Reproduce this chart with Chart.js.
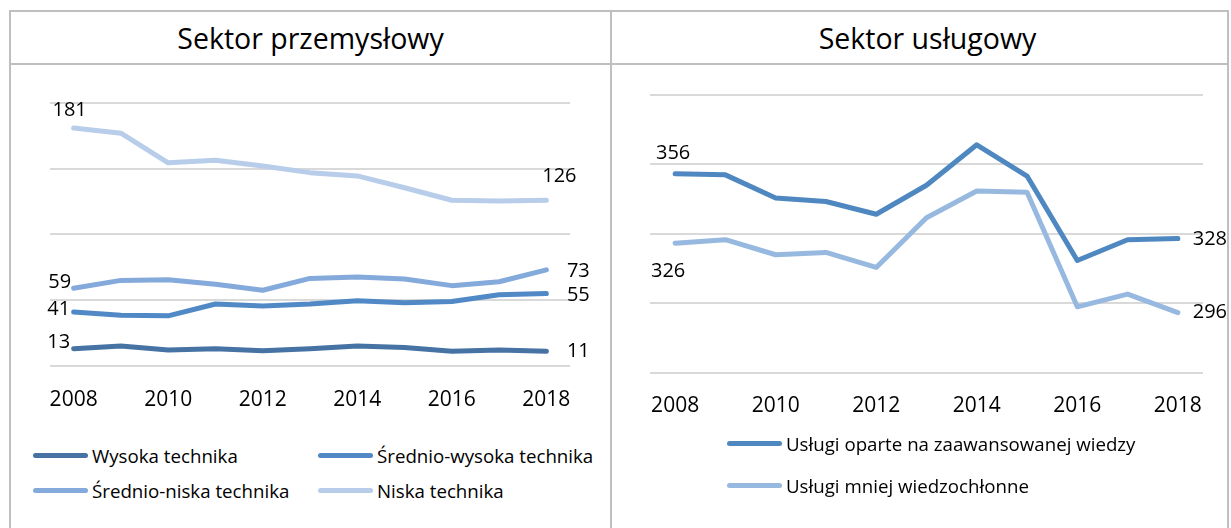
<!DOCTYPE html>
<html lang="pl">
<head>
    <meta charset="UTF-8">
    <title>Sektor przemysłowy i usługowy</title>
    <script src="https://cdn.jsdelivr.net/npm/chart.js"></script>
    <style>
        body {
            margin: 0;
            background: #fff;
            font-family: "Open Sans", sans-serif;
            color: #000;
        }

        .line {
            position: absolute;
            background: #bfbfbf;
        }

        .title {
            position: absolute;
            top: 12px;
            height: 51px;
            display: flex;
            align-items: center;
            justify-content: center;
            font-size: 28.5px;
        }

        .chart-box {
            position: absolute;
            top: 66px;
        }

        .legend {
            position: absolute;
            font-size: 18.7px;
        }

        .legend-item {
            position: absolute;
            display: flex;
            align-items: center;
            white-space: nowrap;
        }

        .legend-item span.sample {
            display: inline-block;
            width: 55px;
            height: 5px;
            border-radius: 3px;
            margin-right: 4px;
        }
    </style>
</head>

<body>
    <!-- ramka -->
    <div class="line" style="left:9px; top:10px; width:1220px; height:2px;"></div>
    <div class="line" style="left:9px; top:63px; width:1220px; height:2px;"></div>
    <div class="line" style="left:9px; top:10px; width:2px; height:530px;"></div>
    <div class="line" style="left:610px; top:10px; width:2px; height:530px;"></div>
    <div class="line" style="left:1227px; top:10px; width:2px; height:530px;"></div>

    <div class="title" style="left:11px; width:599px;">Sektor przemysłowy</div>
    <div class="title" style="left:620px; width:615px;">Sektor usługowy</div>

    <div class="chart-box" style="left:12px;">
        <canvas id="chartPrzemysl" width="596" height="373"></canvas>
    </div>
    <div class="chart-box" style="left:613px;">
        <canvas id="chartUslugi" width="613" height="376"></canvas>
    </div>

    <div class="legend" id="legendPrzemysl"></div>
    <div class="legend" id="legendUslugi"></div>

    <script>
        // Dane
        const years = ['2008', '2009', '2010', '2011', '2012', '2013', '2014', '2015', '2016', '2017', '2018'];
        const tickYears = ['2008', '2010', '2012', '2014', '2016', '2018'];

        const wysokaTechnika = [13, 15, 12, 13, 11.5, 13, 15, 14, 11, 12, 11];
        const sredniowysokaTechnika = [41, 38.5, 38, 47, 45.5, 47, 49.5, 48, 49, 54, 55];
        const srednioniskaTechnika = [59, 65, 65.5, 62, 57.5, 66.5, 67.5, 66, 61, 64, 73];
        const niskaTechnika = [181, 177, 154.5, 156.5, 152, 147, 144.5, 135.5, 126, 125.5, 126];

        const uslugiZaawansowane = [356, 355.5, 345.5, 344, 338.5, 351, 368.5, 355, 318.5, 327.5, 328];
        const uslugiMniej = [326, 327.5, 321, 322, 315.5, 337, 348.5, 348, 298.5, 304, 296];

        // zakres osi Y: min, max, krok
        const przemyslAxis = [0, 200, 50];
        const uslugiAxis = [270, 390, 30];

        // etykiety wartości na początku i końcu linii
        const endLabels = {
            id: 'endLabels',
            afterDatasetsDraw(chart) {
                const ctx = chart.ctx;
                ctx.save();
                ctx.font = '20px "Open Sans"';
                ctx.fillStyle = '#000';
                ctx.textAlign = 'center';
                ctx.textBaseline = 'middle';
                chart.data.datasets.forEach((ds, i) => {
                    const pts = chart.getDatasetMeta(i).data;
                    const last = pts.length - 1;
                    [[0, ds.labelFirst], [last, ds.labelLast]].forEach(([k, off]) => {
                        const p = pts[k];
                        ctx.fillText(Math.round(ds.data[k]), p.x + off[0], p.y + off[1]);
                    });
                });
                ctx.restore();
            }
        };

        function lineSet(label, data, color, first, last) {
            return {
                label: label,
                data: data,
                borderColor: color,
                backgroundColor: color,
                borderWidth: 5,
                pointRadius: 0,
                tension: 0,
                borderCapStyle: 'round',
                borderJoinStyle: 'round',
                labelFirst: first,
                labelLast: last
            };
        }

        function createChart(id, datasets, axis, padding, tickPad) {
            const ctx = document.getElementById(id).getContext('2d');
            return new Chart(ctx, {
                type: 'line',
                data: { labels: years, datasets: datasets },
                options: {
                    responsive: false,
                    animation: false,
                    layout: { padding: padding },
                    plugins: {
                        legend: { display: false },
                        tooltip: { enabled: false }
                    },
                    scales: {
                        x: {
                            offset: true,
                            grid: { display: false, drawTicks: false },
                            border: { display: false },
                            ticks: {
                                autoSkip: false,
                                maxRotation: 0,
                                padding: tickPad,
                                color: '#000',
                                font: { family: 'Open Sans', size: 21 },
                                callback: function (value) {
                                    const y = this.getLabelForValue(value);
                                    return tickYears.includes(y) ? y : '';
                                }
                            }
                        },
                        y: {
                            min: axis[0],
                            max: axis[1],
                            ticks: { display: false, stepSize: axis[2] },
                            grid: { color: '#d9d9d9', lineWidth: 2, drawTicks: false },
                            border: { display: false }
                        }
                    }
                },
                plugins: [endLabels]
            });
        }

        const przemyslSets = [
            lineSet('Wysoka technika', wysokaTechnika, '#4672a4', [-15, -6], [32, 0]),
            lineSet('Średnio-wysoka technika', sredniowysokaTechnika, '#5089c6', [-15, -3], [32, 2]),
            lineSet('Średnio-niska technika', srednioniskaTechnika, '#84aadc', [-14, -6], [32, 1]),
            lineSet('Niska technika', niskaTechnika, '#b7cde9', [-4, -18], [13, -24])
        ];
        const uslugiSets = [
            lineSet('Usługi oparte na zaawansowanej wiedzy', uslugiZaawansowane, '#4f88c0', [-2, -20], [32, 1]),
            lineSet('Usługi mniej wiedzochłonne', uslugiMniej, '#97b9e0', [-7, 28], [32, 0])
        ];

        const chartP = createChart('chartPrzemysl', przemyslSets, przemyslAxis, { left: 38, right: 38, top: 37, bottom: 4 }, 22);
        const chartU = createChart('chartUslugi', uslugiSets, uslugiAxis, { left: 37, right: 23, top: 29, bottom: 2 }, 21);

        // legenda HTML
        function buildLegend(id, chart, places) {
            const box = document.getElementById(id);
            chart.data.datasets.forEach((ds, i) => {
                const item = document.createElement('div');
                item.className = 'legend-item';
                item.style.left = places[i][0] + 'px';
                item.style.top = places[i][1] + 'px';
                const sample = document.createElement('span');
                sample.className = 'sample';
                sample.style.background = ds.borderColor;
                const text = document.createElement('span');
                text.textContent = ds.label;
                item.appendChild(sample);
                item.appendChild(text);
                box.appendChild(item);
            });
        }

        buildLegend('legendPrzemysl', chartP, [[33, 443], [318, 443], [33, 478], [318, 478]]);
        buildLegend('legendUslugi', chartU, [[727, 431], [727, 473]]);
    </script>
</body>

</html>
